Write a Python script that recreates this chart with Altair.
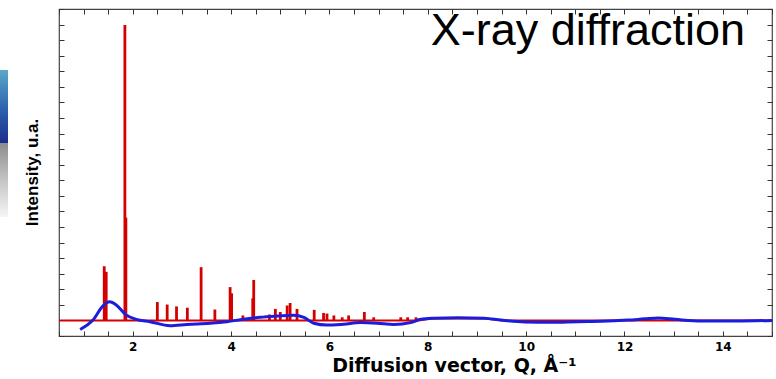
import altair as alt
import pandas as pd

# --- data ---
peak_q = [1.42, 1.46, 1.84, 1.86, 2.50, 2.70, 2.89, 3.11, 3.39, 3.67, 3.98, 4.01,
          4.24, 4.44, 4.46, 4.78, 4.90, 5.00, 5.14, 5.20, 5.34, 5.69, 5.88, 5.95,
          6.09, 6.26, 6.39, 6.71, 6.90, 7.45, 7.59, 7.76]
peak_h = [17.4, 15.6, 94.9, 33.0, 5.9, 5.1, 4.5, 4.1, 17.1, 3.5, 10.7, 8.7,
          1.6, 7.1, 13.0, 1.9, 3.7, 2.7, 4.8, 5.6, 3.7, 3.4, 2.4, 2.2,
          1.6, 1.0, 1.6, 2.7, 1.0, 1.0, 1.0, 1.0]

red_bg_q = [0.5, 7.80, 8.10, 9.20, 9.50, 15.0]
red_bg_i = [0.0, 0.0, 0.6, 0.6, 0.0, 0.0]

blue_q = [0.93, 1.19, 1.39, 1.53, 1.67, 1.87, 2.07, 2.35, 2.76, 3.10, 3.57, 3.91,
          4.25, 4.59, 4.93, 5.27, 5.48, 5.68, 5.95, 6.29, 6.63, 6.97, 7.31, 7.65,
          7.86, 8.13, 8.61, 9.15, 9.49, 9.97, 10.51, 11.06, 11.53, 12.07, 12.41,
          12.69, 13.03, 13.57, 14.25, 15.0]
blue_i = [-2.9, 0.1, 4.6, 6.0, 4.9, 1.7, 0.35, -0.4, -1.7, -1.3, -0.9, -0.4,
          0.35, 1.0, 1.4, 1.7, 1.0, -0.9, -1.5, -1.2, -0.7, -0.9, -1.3, -0.7,
          0.35, 0.7, 0.9, 0.7, 0.1, -0.5, -0.6, -0.4, -0.3, 0.1, 0.5,
          0.8, 0.35, -0.2, -0.2, 0.0]

x_ticks = [0.5 * k for k in range(1, 31)]
y_ticks = [5 * k for k in range(-1, 21)]

peaks = pd.DataFrame({"q": peak_q, "h": peak_h, "base": [0.0] * len(peak_q)})
red_bg = pd.DataFrame({"q": red_bg_q, "i": red_bg_i})
blue = pd.DataFrame({"q": blue_q, "i": blue_i})

xs = alt.Scale(domain=[0.5, 15], nice=False, zero=False)
ys = alt.Scale(domain=[-5, 100], nice=False, zero=False)

FONT = "DejaVu Sans"
TICKC = "#333333"

x_bottom = alt.Axis(
    values=x_ticks, orient="bottom", offset=-5, tickSize=5, domain=False, grid=False,
    tickColor=TICKC, labelExpr="datum.value % 2 === 0 ? format(datum.value, 'd') : ''",
    labelFont=FONT, labelFontWeight="bold", labelFontSize=12, labelColor="black",
    labelBaseline="alphabetic", labelPadding=14, labelFlush=False,
    title="Diffusion vector, Q, Å⁻¹", titleFont=FONT, titleFontWeight="bold",
    titleFontSize=19, titleColor="black", titleX=395, titleY=40,
    titleAlign="center", titleBaseline="alphabetic",
)
x_top = alt.Axis(
    values=x_ticks, orient="top", offset=-5, tickSize=5, domain=False, grid=False,
    tickColor=TICKC, labels=False, title=None,
)
y_left = alt.Axis(
    values=y_ticks, orient="left", offset=-5, tickSize=5, domain=False, grid=False,
    tickColor=TICKC, labels=False,
    title="Intensity, u.a.", titleFont="Liberation Sans", titleFontWeight="bold",
    titleFontSize=17, titleColor="black", titleAngle=270, titleX=-27, titleY=163,
    titleAlign="center", titleBaseline="alphabetic",
)
y_right = alt.Axis(
    values=y_ticks, orient="right", offset=-5, tickSize=5, domain=False, grid=False,
    tickColor=TICKC, labels=False, title=None,
)

RED = "#d40000"
BLUE = "#1c1cdc"

bg_line = alt.Chart(red_bg).mark_line(color=RED, strokeWidth=2, interpolate="linear").encode(
    x=alt.X("q:Q", scale=xs, axis=x_bottom),
    y=alt.Y("i:Q", scale=ys, axis=y_left),
)

peak_rules = alt.Chart(peaks).mark_rule(color=RED, strokeWidth=2.8).encode(
    x=alt.X("q:Q", scale=xs, axis=x_top),
    y=alt.Y("h:Q", scale=ys, axis=y_right),
    y2=alt.Y2("base:Q"),
)

blue_line = alt.Chart(blue).mark_line(color=BLUE, strokeWidth=3, interpolate="monotone").encode(
    x=alt.X("q:Q", scale=xs, axis=None),
    y=alt.Y("i:Q", scale=ys, axis=None),
)

one = pd.DataFrame({"a": [0]})

title_txt = alt.Chart(one).mark_text(
    text="X-ray diffraction", font="Liberation Sans", fontSize=45, color="black",
    align="right", baseline="alphabetic",
).encode(x=alt.value(686), y=alt.value(36))

grad_blue = alt.Chart(one).mark_rect(
    color=alt.LinearGradient(
        gradient="linear", x1=0, y1=0, x2=0, y2=1,
        stops=[alt.GradientStop(color="#5aa8cc", offset=0),
               alt.GradientStop(color="#2a5aa8", offset=0.6),
               alt.GradientStop(color="#1c2f8c", offset=1)],
    )
).encode(x=alt.value(-59), x2=alt.value(-51), y=alt.value(61), y2=alt.value(134))

grad_gray = alt.Chart(one).mark_rect(
    color=alt.LinearGradient(
        gradient="linear", x1=0, y1=0, x2=0, y2=1,
        stops=[alt.GradientStop(color="#8c8c8c", offset=0),
               alt.GradientStop(color="#c4c4c4", offset=0.5),
               alt.GradientStop(color="#f6f6f6", offset=1)],
    )
).encode(x=alt.value(-59), x2=alt.value(-51), y=alt.value(134), y2=alt.value(208))

chart = alt.layer(
    grad_blue, grad_gray, bg_line, peak_rules, blue_line, title_txt
).resolve_axis(x="independent", y="independent").properties(
    width=713, height=327,
    autosize=alt.AutoSizeParams(type="none"),
    padding={"left": 59, "top": 9, "right": 4, "bottom": 43},
    background="white",
).configure_view(stroke="#444444", strokeWidth=1.2)

chart.save("out.html", embed_options={"renderer": "svg", "actions": False})
